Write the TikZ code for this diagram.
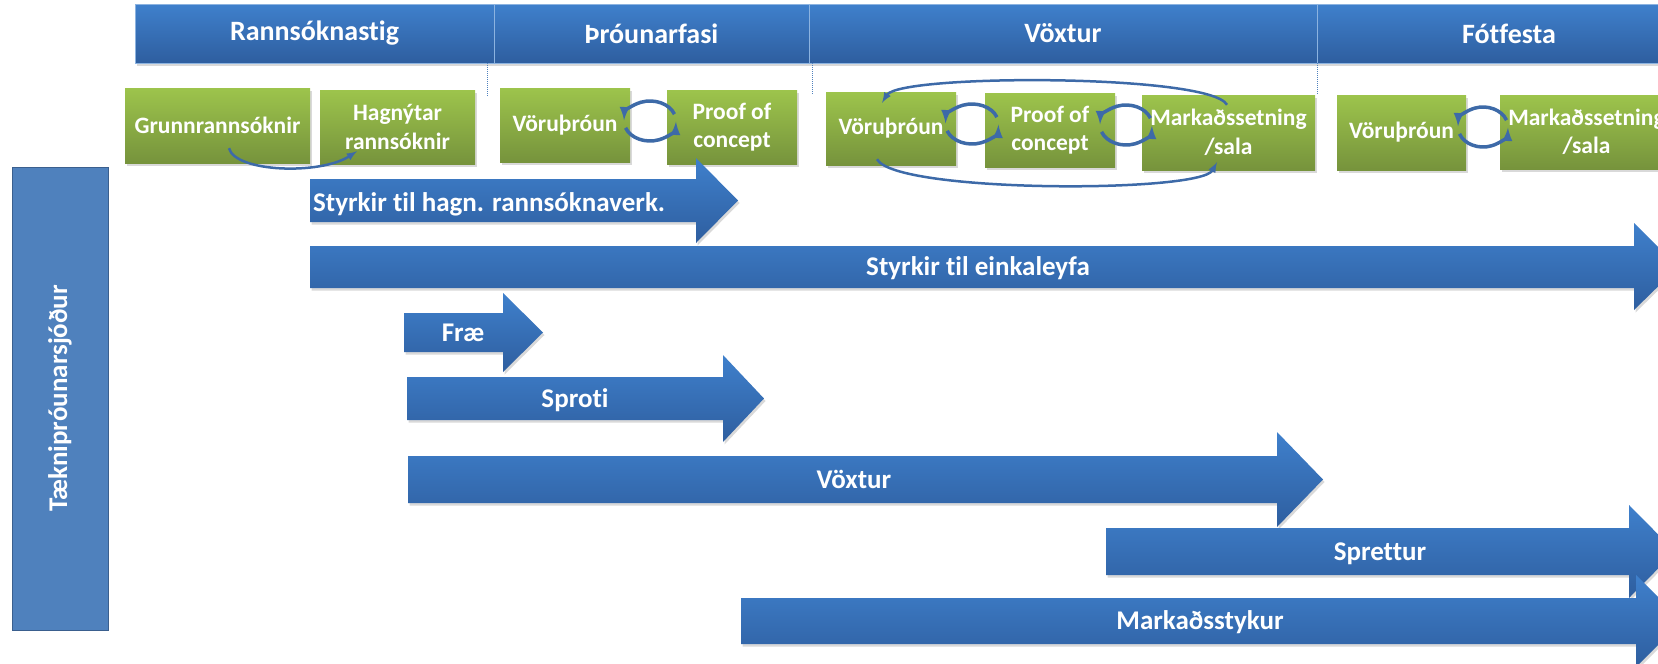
\documentclass[tikz,border=0pt]{standalone}
\usepackage{fontspec}
\setmainfont{Carlito}[Ligatures={NoCommon}]
\usetikzlibrary{shadows}
\definecolor{bluetop}{HTML}{3F80CC}
\definecolor{bluebot}{HTML}{2E5E9F}
\definecolor{greentop}{HTML}{9DC44C}
\definecolor{greenbot}{HTML}{76933C}
\definecolor{barblue}{HTML}{4F81BD}
\definecolor{barline}{HTML}{3A5F8E}
\definecolor{loopblue}{HTML}{3D6AA8}

\begin{document}
\begin{tikzpicture}[x=1pt, y=-1pt]
 \tikzstyle{fase}=[draw=bluetop!60!white, line width=0.6pt, top color=bluetop, bottom color=bluebot, text=white, font=\fontsize{28}{34}\selectfont\bfseries, inner sep=0pt, minimum height=59pt, drop shadow={shadow xshift=1.5pt, shadow yshift=-2.5pt, opacity=0.3}]
 \tikzstyle{skref}=[top color=greentop, bottom color=greenbot, text=white, align=center, font=\fontsize{23.5}{28.5}\selectfont\bfseries, inner sep=0pt, minimum height=74pt, drop shadow={shadow xshift=1.5pt, shadow yshift=-2.5pt, opacity=0.3}]
 \tikzstyle{styrkur}=[top color=bluetop, bottom color=bluebot, drop shadow={shadow xshift=1.5pt, shadow yshift=-2.5pt, opacity=0.3}]
 \tikzstyle{merki}=[text=white, font=\fontsize{27}{32}\selectfont\bfseries, inner sep=0pt, anchor=base]
 \tikzstyle{hringur}=[->, >=latex, loopblue, line width=3.5pt]
 \tikzstyle{boginn}=[->, >=latex, loopblue, line width=2.5pt]
 \tikzstyle{skil}=[barblue, densely dotted, line width=1pt]
 %
 \useasboundingbox (0,0) rectangle (1658,664);
 \clip (0,0) rectangle (1658,664);
 %
 \node[draw=barline, fill=barblue, line width=1pt, minimum width=463pt, minimum height=96pt, rotate=90, text=white, font=\fontsize{27}{32}\selectfont\bfseries] (T) at (60,398.5) {Tæknipróunarsjóður};
 %
 \node[fase, minimum width=359pt] (H1) at (314.5,33.5) {Rannsóknastig};
 \node[fase, minimum width=315pt] (H2) at (651.5,33.5) {Þróunarfasi};
 \node[fase, minimum width=508pt] (H3) at (1063,33.5) {Vöxtur};
 \node[fase, minimum width=384pt] (H4) at (1509,33.5) {Fótfesta};
 %
 \draw[skil] ([xshift=-7pt]H1.south east) -- ++(0,33);
 \draw[skil] ([xshift=3pt]H2.south east) -- ++(0,32);
 \draw[skil] (H3.south east) -- ++(0,32);
 %
 \node[skref, minimum width=185pt, minimum height=75pt] (G1) at (217.5,125.5) {Grunnrannsóknir};
 \node[skref, minimum width=155pt] (G2) at (397.5,127) {Hagnýtar\\rannsóknir};
 \node[skref, minimum width=130pt] (G3) at (565,125) {Vöruþróun};
 \node[skref, minimum width=130pt] (G4) at (732,127) {Proof of\\concept};
 \node[skref, minimum width=130pt, minimum height=73pt] (G5) at (891,128.5) {Vöruþróun};
 \node[skref, minimum width=130pt] (G6) at (1050,130) {Proof of\\concept};
 \node[skref, minimum width=173pt, minimum height=75pt] (G7) at (1228.5,132.5) {Markaðssetning\\/sala};
 \node[skref, minimum width=129pt, minimum height=75pt] (G8) at (1401.5,132.5) {Vöruþróun};
 \node[skref, minimum width=173pt] (G9) at (1586.5,132) {Markaðssetning\\/sala};
 %
 \coordinate (L1) at (650,121);
 \coordinate (L2) at (972,124);
 \coordinate (L3) at (1126,125);
 \coordinate (L4) at (1483,127);
 \draw[hringur] (L1) ++(-20:26 and 20) arc[start angle=-20, end angle=-178, x radius=26, y radius=20];
 \draw[hringur] (L1) ++(-200:26 and 20) arc[start angle=-200, end angle=-358, x radius=26, y radius=20];
 \draw[hringur] (L2) ++(-20:26.5 and 20) arc[start angle=-20, end angle=-178, x radius=26.5, y radius=20];
 \draw[hringur] (L2) ++(-200:26.5 and 20) arc[start angle=-200, end angle=-358, x radius=26.5, y radius=20];
 \draw[hringur] (L3) ++(-20:26 and 20) arc[start angle=-20, end angle=-178, x radius=26, y radius=20];
 \draw[hringur] (L3) ++(-200:26 and 20) arc[start angle=-200, end angle=-358, x radius=26, y radius=20];
 \draw[hringur] (L4) ++(-20:25 and 20) arc[start angle=-20, end angle=-178, x radius=25, y radius=20];
 \draw[hringur] (L4) ++(-200:25 and 20) arc[start angle=-200, end angle=-358, x radius=25, y radius=20];
 %%
 \draw[boginn] ([xshift=11.5pt,yshift=15pt]G1.south) .. controls +(6,24) and +(-37,24) .. ([xshift=-40.5pt,yshift=13pt]G2.south);
 \draw[boginn] ([xshift=-1.5pt,yshift=-10pt]G7.north) .. controls +(-17,-31) and +(18,-29) .. ([xshift=-9pt,yshift=-11pt]G5.north);
 \draw[boginn] ([xshift=-14pt,yshift=6pt]G5.south) .. controls +(18,34) and +(-17,31) .. ([xshift=-11.5pt,yshift=8pt]G7.south);
 %%
 \path[styrkur] (310,179) -- (696,179) -- (696,158) -- (738,200.5) -- (696,243) -- (696,222) -- (310,222) -- cycle;
 \node[merki, anchor=base west] (S1) at (313,211) {Styrkir til hagn. rannsóknaverk.};
 \path[styrkur] (310,246) -- (1634,246) -- (1634,223) -- (1678,267) -- (1634,310) -- (1634,288) -- (310,288) -- cycle;
 \node[merki] (S2) at (978,275.5) {Styrkir til einkaleyfa};
 \path[styrkur] (404,313) -- (503,313) -- (503,293) -- (543,332.5) -- (503,372) -- (503,352) -- (404,352) -- cycle;
 \node[merki] (S3) at (463,341) {Fræ};
 \path[styrkur] (407,377) -- (723,377) -- (723,355) -- (764,398.5) -- (723,442) -- (723,420) -- (407,420) -- cycle;
 \node[merki] (S4) at (575,407) {Sproti};
 \path[styrkur] (408,456) -- (1277,456) -- (1277,432) -- (1323,479.5) -- (1277,527) -- (1277,503) -- (408,503) -- cycle;
 \node[merki] (S5) at (854,488) {Vöxtur};
 \path[styrkur] (1106,528) -- (1629,528) -- (1629,505) -- (1675,551.5) -- (1629,598) -- (1629,575) -- (1106,575) -- cycle;
 \node[merki] (S6) at (1380,560) {Sprettur};
 \path[styrkur] (741,598) -- (1636,598) -- (1636,575) -- (1682,621) -- (1636,667) -- (1636,644) -- (741,644) -- cycle;
 \node[merki] (S7) at (1200,629.5) {Markaðsstykur};
\end{tikzpicture}
\end{document}
